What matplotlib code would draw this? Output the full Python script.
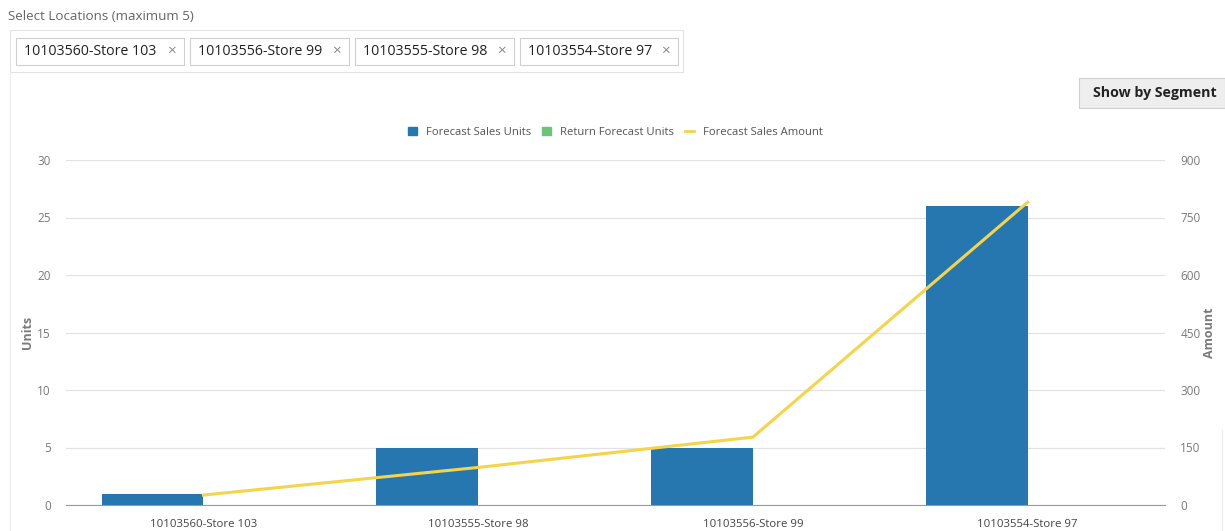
import numpy as np
import matplotlib
matplotlib.use("Agg")
import matplotlib.pyplot as plt
from matplotlib.patches import Rectangle
from matplotlib.lines import Line2D

plt.rcParams['font.family'] = ['Open Sans', 'DejaVu Sans']

# data
stores = ["10103560-Store 103", "10103555-Store 98", "10103556-Store 99", "10103554-Store 97"]
sales_units = [1, 5, 5, 26]
return_units = [0, 0, 0, 0]
sales_amount = [26, 98, 177, 790]
chips = ["10103560-Store 103", "10103556-Store 99", "10103555-Store 98", "10103554-Store 97"]

BLUE = "#2677b0"
GREEN = "#6cc47a"
YELLOW = "#f5d44a"
TXT = "#7a7a7a"
GRID = "#e2e2e2"

W, H = 1225, 531
fig = plt.figure(figsize=(W / 100, H / 100), dpi=100)

# page chrome drawn in pixel coords on a background axes
bg = fig.add_axes([0, 0, 1, 1])
bg.set_xlim(0, W)
bg.set_ylim(H, 0)
bg.axis("off")

bg.text(8, 17, "Select Locations (maximum 5)", fontsize=9.6, color="#666666", va="center")
bg.add_patch(Rectangle((10, 30), 673, 42, fill=False, ec="#e3e3e3", lw=0.8))
bg.plot([10, 10], [72, H], color="#ececec", lw=0.8)
bg.plot([1222, 1222], [430, H], color="#ececec", lw=0.8)
chip_x = [16, 190, 355, 520]
chip_w = [168, 159, 159, 158]
for x0, w, name in zip(chip_x, chip_w, chips):
    bg.add_patch(Rectangle((x0, 38), w, 27, fc="white", ec="#cfcfcf", lw=0.8))
    bg.text(x0 + 8, 51.5, name, fontsize=10.2, color="#222222", va="center")
    bg.text(x0 + w - 13, 51.5, "\u00d7", fontsize=11, color="#888888", va="center", ha="center")

bg.add_patch(Rectangle((1079, 78), 146, 30, fc="#eeeeee", ec="#d0d0d0", lw=0.8))
bg.text(1155, 93, "Show by Segment", fontsize=10.2, color="#222222", va="center",
        ha="center", fontweight="bold")

# chart
ax = fig.add_axes([66 / W, (H - 505) / H, (1165 - 66) / W, 345 / H])
x = np.arange(len(stores))
bw = 0.37
ax.bar(x, sales_units, width=-bw, align="edge", color=BLUE, zorder=2)
ax.bar(x, return_units, width=bw, align="edge", color=GREEN, zorder=2)
ax.set_xlim(-0.5, len(stores) - 0.5)
ax.set_ylim(0, 30)
ax.set_yticks(range(0, 31, 5))
ax.set_xticks(x)
ax.set_xticklabels(stores)
ax.grid(axis="y", color=GRID, lw=0.9, zorder=0)
for s in ["top", "right", "left"]:
    ax.spines[s].set_visible(False)
ax.spines["bottom"].set_color("#9a9a9a")
ax.tick_params(axis="y", length=0, labelsize=8.5, colors=TXT, pad=11)
ax.tick_params(axis="x", length=0, labelsize=8.2, labelcolor="#444444", pad=10)
ax.set_ylabel("Units", fontsize=9, fontweight="bold", color=TXT)
ax.yaxis.set_label_coords(-0.029, 0.5)

ax2 = ax.twinx()
ax2.plot(x, sales_amount, color=YELLOW, lw=2.2, zorder=3)
ax2.set_ylim(0, 900)
ax2.set_yticks(range(0, 901, 150))
for s in ax2.spines.values():
    s.set_visible(False)
ax2.tick_params(axis="y", length=0, labelsize=8.5, colors=TXT, pad=11)
ax2.set_ylabel("Amount", fontsize=9, fontweight="bold", color=TXT, rotation=90)
ax2.yaxis.set_label_coords(1.035, 0.5)

handles = [
    Rectangle((0, 0), 1, 1, color=BLUE),
    Rectangle((0, 0), 1, 1, color=GREEN),
    Line2D([0], [0], color=YELLOW, lw=2),
]
leg = ax.legend(handles, ["Forecast Sales Units", "Return Forecast Units", "Forecast Sales Amount"],
                loc="center", bbox_to_anchor=(0.5, 1.08), ncol=3, frameon=False,
                fontsize=8.1, handlelength=0.8, handleheight=0.8, handletextpad=0.8,
                columnspacing=1.0)
for t in leg.get_texts():
    t.set_color("#555555")

fig.savefig("out.png", dpi=100)
